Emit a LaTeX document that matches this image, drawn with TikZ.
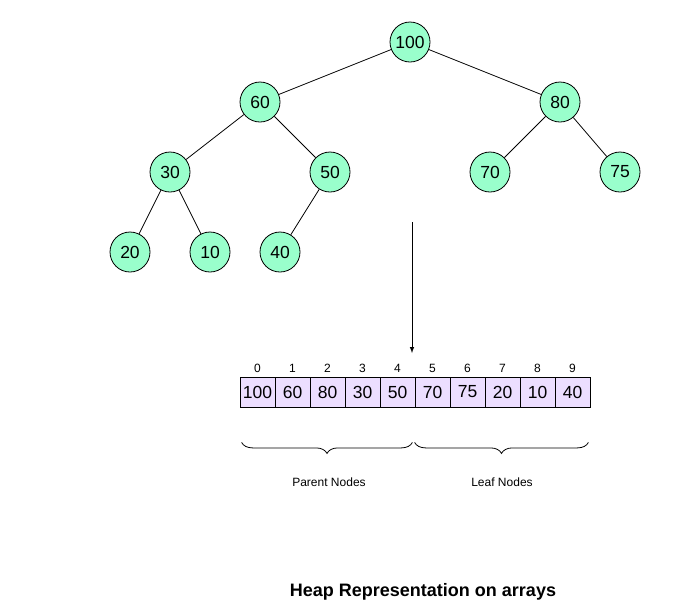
\documentclass[tikz,border=0pt]{standalone}
\usepackage{fontspec}
\setmainfont{Liberation Sans}
\usetikzlibrary{decorations.pathreplacing}
\definecolor{heapgreen}{RGB}{153,255,204}
\definecolor{celllilac}{RGB}{236,222,255}
\tikzset{
  heapnode/.style={circle,draw,line width=0.8pt,fill=heapgreen,minimum size=40pt,inner sep=0pt,font=\fontsize{17.5}{20}\selectfont},
  cell/.style={rectangle,draw,line width=0.8pt,fill=celllilac,minimum width=35pt,minimum height=30pt,inner sep=0pt,font=\fontsize{17.5}{20}\selectfont},
  idx/.style={font=\fontsize{12}{14}\selectfont},
  link/.style={line width=0.8pt}
}
\begin{document}
\begin{tikzpicture}[x=1pt,y=-1pt]
\useasboundingbox (0,0) rectangle (674,614);
% tree
\node[heapnode] (n100) at (410,42) {100};
\node[heapnode] (n60) at (260,102) {60};
\node[heapnode] (n80) at (560,102) {80};
\node[heapnode] (n30) at (170,172) {30};
\node[heapnode] (n50) at (330,172) {50};
\node[heapnode] (n70) at (490,172) {70};
\node[heapnode] (n75) at (620,172) {75};
\node[heapnode] (n20) at (130,252) {20};
\node[heapnode] (n10) at (210,252) {10};
\node[heapnode] (n40) at (280,252) {40};
\draw[link] (n100) -- (n60);
\draw[link] (n100) -- (n80);
\draw[link] (n60) -- (n30);
\draw[link] (n60) -- (n50);
\draw[link] (n80) -- (n70);
\draw[link] (n80) -- (n75);
\draw[link] (n30) -- (n20);
\draw[link] (n30) -- (n10);
\draw[link] (n50) -- (n40);
% arrow down to the array
\coordinate (arrowtop) at (412,222);
\coordinate (arrowtip) at (412,353);
\draw[-latex,line width=1pt] (arrowtop) -- (arrowtip);
% array
\foreach \v [count=\i from 0] in {100,60,80,30,50,70,75,20,10,40}{
  \node[cell] (c\i) at (257.5+35*\i,392) {\v};
  \node[idx] (i\i) at (257.5+35*\i,368) {\i};
}
% braces
\draw[link,decorate,decoration={brace,mirror,amplitude=11pt}]
  ([xshift=2pt,yshift=-35pt]c0.south west) -- ([xshift=-3pt,yshift=-35pt]c4.south east);
\draw[link,decorate,decoration={brace,mirror,amplitude=11pt}]
  ([xshift=0pt,yshift=-35pt]c5.south west) -- ([xshift=-2pt,yshift=-35pt]c9.south east);
\node[idx] (parent) at (329,482) {Parent Nodes};
\node[idx] (leaf) at (502,482) {Leaf Nodes};
% title
\node[font=\fontsize{18}{22}\selectfont\bfseries] (title) at (423,592) {Heap Representation on arrays};
\end{tikzpicture}
\end{document}
